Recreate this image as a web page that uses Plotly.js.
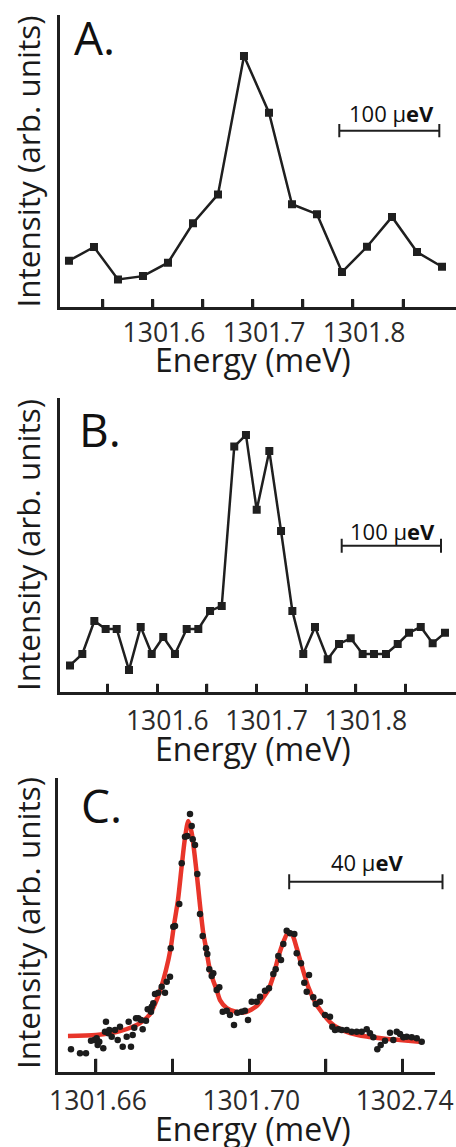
<!DOCTYPE html>
<html>
<head>
<meta charset="utf-8">
<script src="https://cdn.plot.ly/plotly-3.0.1.min.js"></script>
<style>
  html, body { margin: 0; padding: 0; background: #ffffff; }
  #chart { width: 456px; height: 1147px; }
</style>
</head>
<body>
<div id="chart"></div>
<script>
// ---------- Data ----------
// Panel A
const energyA = [1301.516, 1301.541, 1301.565, 1301.590, 1301.615, 1301.640, 1301.665, 1301.691,
                 1301.716, 1301.739, 1301.764, 1301.789, 1301.814, 1301.839, 1301.864, 1301.889];
const intensityA = [0.191, 0.245, 0.117, 0.130, 0.183, 0.339, 0.453, 1.000,
                    0.776, 0.414, 0.375, 0.146, 0.246, 0.364, 0.225, 0.167];

// Panel B
const energyB = [1301.5121, 1301.5245, 1301.5366, 1301.5480, 1301.5591, 1301.5715, 1301.5833, 1301.5944,
                 1301.6060, 1301.6178, 1301.6296, 1301.6413, 1301.6531, 1301.6649, 1301.6775, 1301.6893,
                 1301.7001, 1301.7128, 1301.7246, 1301.7360, 1301.7470, 1301.7588, 1301.7716, 1301.7830,
                 1301.7948, 1301.8068, 1301.8182, 1301.8303, 1301.8421, 1301.8535, 1301.8653, 1301.8773,
                 1301.8897];
const intensityB = [0.108, 0.152, 0.280, 0.249, 0.249, 0.090, 0.257, 0.152,
                    0.218, 0.152, 0.249, 0.249, 0.319, 0.338, 0.955, 1.000,
                    0.710, 0.938, 0.628, 0.319, 0.152, 0.257, 0.132, 0.191,
                    0.213, 0.152, 0.152, 0.152, 0.191, 0.234, 0.257, 0.194,
                    0.234];

// Panel C: measured points
const energyC = [1301.65348, 1301.65583, 1301.65739, 1301.65870, 1301.65956, 1301.66018, 1301.66044, 1301.66086,
                 1301.66190, 1301.66235, 1301.66261, 1301.66321, 1301.66347, 1301.66410, 1301.66496, 1301.66566,
                 1301.66626, 1301.66697, 1301.66801, 1301.66853, 1301.66913, 1301.66957, 1301.66999, 1301.67044,
                 1301.67104, 1301.67174, 1301.67218, 1301.67304, 1301.67349, 1301.67435, 1301.67453, 1301.67495,
                 1301.67539, 1301.67625, 1301.67714, 1301.67800, 1301.67845, 1301.67931, 1301.67949, 1301.68017,
                 1301.68061, 1301.68173, 1301.68236, 1301.68322, 1301.68382, 1301.68452, 1301.68497, 1301.68523,
                 1301.68583, 1301.68643, 1301.68713, 1301.68784, 1301.68870, 1301.68904, 1301.68956, 1301.69019,
                 1301.69060, 1301.69149, 1301.69217, 1301.69306, 1301.69410, 1301.69496, 1301.69600, 1301.69686,
                 1301.69801, 1301.69887, 1301.69966, 1301.70062, 1301.70193, 1301.70279, 1301.70409, 1301.70513,
                 1301.70626, 1301.70688, 1301.70756, 1301.70826, 1301.70887, 1301.70975, 1301.71061, 1301.71174,
                 1301.71236, 1301.71348, 1301.71434, 1301.71497, 1301.71557, 1301.71669, 1301.71732, 1301.71844,
                 1301.71974, 1301.72105, 1301.72165, 1301.72235, 1301.72321, 1301.72410, 1301.72541, 1301.72671,
                 1301.72801, 1301.72932, 1301.73062, 1301.73148, 1301.73235, 1301.73339, 1301.73428, 1301.73540,
                 1301.73670, 1301.73756, 1301.73845, 1301.73931, 1301.74017, 1301.74106, 1301.74236, 1301.74367,
                 1301.74497];
const intensityC = [0.096, 0.080, 0.080, 0.130, 0.133, 0.140, 0.113, 0.126,
                    0.100, 0.166, 0.206, 0.160, 0.173, 0.146, 0.173, 0.133,
                    0.186, 0.106, 0.146, 0.206, 0.106, 0.153, 0.182, 0.220,
                    0.220, 0.213, 0.176, 0.210, 0.256, 0.246, 0.266, 0.280,
                    0.317, 0.322, 0.346, 0.322, 0.366, 0.386, 0.500, 0.586,
                    0.589, 0.677, 0.840, 0.946, 0.949, 1.037, 0.989, 0.936,
                    0.913, 0.797, 0.637, 0.549, 0.500, 0.477, 0.416, 0.389,
                    0.400, 0.333, 0.344, 0.246, 0.250, 0.233, 0.193, 0.242,
                    0.246, 0.250, 0.213, 0.286, 0.286, 0.306, 0.330, 0.340,
                    0.397, 0.416, 0.469, 0.453, 0.517, 0.570, 0.560, 0.557,
                    0.480, 0.440, 0.362, 0.326, 0.393, 0.304, 0.277, 0.286,
                    0.233, 0.226, 0.186, 0.173, 0.176, 0.173, 0.173, 0.166,
                    0.166, 0.166, 0.176, 0.160, 0.144, 0.096, 0.113, 0.130,
                    0.162, 0.133, 0.166, 0.157, 0.144, 0.146, 0.144, 0.140,
                    0.126];

// Panel C: fitted curve
const fitEnergyC = [1301.65269, 1301.66000, 1301.66626, 1301.67148, 1301.67409, 1301.67539, 1301.67670, 1301.67826,
                    1301.67949, 1301.68035, 1301.68139, 1301.68236, 1301.68322, 1301.68408, 1301.68497, 1301.68609,
                    1301.68713, 1301.68799, 1301.68870, 1301.68956, 1301.69052, 1301.69149, 1301.69235, 1301.69410,
                    1301.69671, 1301.69913, 1301.70193, 1301.70357, 1301.70495, 1301.70626, 1301.70756, 1301.70887,
                    1301.71017, 1301.71114, 1301.71236, 1301.71348, 1301.71539, 1301.71714, 1301.71888, 1301.72105,
                    1301.72321, 1301.72627, 1301.73062, 1301.73496, 1301.73931, 1301.74505];
const fitIntensityC = [0.149, 0.153, 0.169, 0.201, 0.237, 0.277, 0.329, 0.413,
                       0.501, 0.593, 0.693, 0.829, 0.941, 1.009, 0.961, 0.825,
                       0.673, 0.561, 0.501, 0.425, 0.373, 0.333, 0.293, 0.261,
                       0.245, 0.245, 0.269, 0.301, 0.333, 0.389, 0.465, 0.525,
                       0.565, 0.557, 0.501, 0.441, 0.345, 0.285, 0.245, 0.205,
                       0.181, 0.161, 0.147, 0.139, 0.133, 0.125];

// Tick values / labels
const tickValsAB = [1301.55, 1301.60, 1301.65, 1301.70, 1301.75, 1301.80, 1301.85];
const tickTextAB = ['', '1301.6', '', '1301.7', '', '1301.8', ''];
const tickValsC = [1301.66, 1301.68, 1301.70, 1301.72, 1301.74];
const tickTextC = ['1301.66', '', '1301.70', '', '1302.74'];

// Texts
const panelLabels = ['A.', 'B.', 'C.'];
const xTitle = 'Energy (meV)';
const yTitle = 'Intensity (arb. units)';
const scaleLabels = ['100 μ<b>eV</b>', '100 μ<b>eV</b>', '40 μ<b>eV</b>'];

// ---------- Styling ----------
const FONT = 'Open Sans, Noto Sans, sans-serif';
const INK = '#1f1f1f';

const rangeA = [1301.5068, 1301.903];
const rangeB = [1301.5018, 1301.9008];
const rangeC = [1301.64996, 1301.74844];

function xAxis(domain, range, tickvals, ticktext, ticklen, shift, standoff) {
  return {
    domain: domain, range: range, showgrid: false, zeroline: false,
    showline: true, linecolor: INK, linewidth: 3,
    ticks: 'inside', ticklen: ticklen, tickwidth: 2.5, tickcolor: INK,
    tickvals: tickvals, ticktext: ticktext, tickangle: 0,
    ticklabelshift: shift, ticklabelstandoff: standoff,
    tickfont: {family: FONT, size: 26.5, color: '#2b2b2b'}
  };
}
function yAxis(domain, range) {
  return {
    domain: domain, range: range, showgrid: false, zeroline: false,
    showline: true, linecolor: INK, linewidth: 3,
    ticks: '', showticklabels: false
  };
}

const traces = [
  {x: energyA, y: intensityA, xaxis: 'x', yaxis: 'y', type: 'scatter', mode: 'lines+markers',
   line: {color: INK, width: 2.5}, marker: {symbol: 'square', size: 8, color: INK}},
  {x: energyB, y: intensityB, xaxis: 'x2', yaxis: 'y2', type: 'scatter', mode: 'lines+markers',
   line: {color: INK, width: 2.5}, marker: {symbol: 'square', size: 8, color: INK}},
  {x: fitEnergyC, y: fitIntensityC, xaxis: 'x3', yaxis: 'y3', type: 'scatter', mode: 'lines',
   line: {color: '#e8352a', width: 4.5, shape: 'spline', smoothing: 0.7}},
  {x: energyC, y: intensityC, xaxis: 'x3', yaxis: 'y3', type: 'scatter', mode: 'markers',
   marker: {symbol: 'circle', size: 6.5, color: '#1c1c1c'}}
];

function scaleBar(xr, yr, x0, x1, y, cap) {
  const s = {type: 'line', xref: xr, yref: yr, line: {color: INK, width: 2}};
  return [
    Object.assign({}, s, {x0: x0, x1: x1, y0: y, y1: y}),
    Object.assign({}, s, {x0: x0, x1: x0, y0: y - cap, y1: y + cap}),
    Object.assign({}, s, {x0: x1, x1: x1, y0: y - cap, y1: y + cap})
  ];
}
// inward tick marks at the tick values, measured as a fraction of the subplot height
function tickMarks(xr, yr, vals, lenFrac) {
  return vals.map(v => ({type: 'line', xref: xr, yref: yr + ' domain', x0: v, x1: v, y0: 0, y1: lenFrac,
                         line: {color: INK, width: 2.5}}));
}
const fracC = e => (e - rangeC[0]) / (rangeC[1] - rangeC[0]);
const barC0 = 1301.7104, barCWidth = 0.040;

function txt(text, xr, yr, x, y, size, extra) {
  return Object.assign({text: text, xref: xr, yref: yr, x: x, y: y, xanchor: 'center', yanchor: 'middle',
    showarrow: false, font: {family: FONT, size: size, color: '#111'}}, extra || {});
}
function yTitleAnn(yPaper) {
  return txt(yTitle, 'paper', 'paper', 27/456, yPaper, 31.5,
             {textangle: -90, font: {family: FONT, size: 31.5, color: '#1a1a1a'}});
}
function xTitleAnn(yPaper) {
  return txt(xTitle, 'paper', 'paper', 253/456, yPaper, 32,
             {font: {family: FONT, size: 32, color: '#1a1a1a'}});
}

const layout = {
  width: 456, height: 1147,
  margin: {l: 0, r: 0, t: 0, b: 0},
  paper_bgcolor: '#ffffff', plot_bgcolor: '#ffffff',
  showlegend: false,
  font: {family: FONT, color: '#1a1a1a'},
  xaxis:  xAxis([0.1311, 1], rangeA, tickValsAB, tickTextAB, 8, 11, 0),
  yaxis:  yAxis([0.73191, 0.98692], [0.006, 1.162]),
  xaxis2: Object.assign(xAxis([0.1311, 1], rangeB, tickValsAB, tickTextAB, 8, 10, 3), {anchor: 'y2'}),
  yaxis2: Object.assign(yAxis([0.39686, 0.65301], [0.0058, 1.143]), {anchor: 'x2'}),
  xaxis3: Object.assign(xAxis([0.12610, 0.95395], rangeC, tickValsC, tickTextC, 13, 2, 3), {anchor: 'y3'}),
  yaxis3: Object.assign(yAxis([0.06556, 0.32171], [0.006, 1.181]), {anchor: 'x3'}),
  shapes: [].concat(
    tickMarks('x', 'y', tickValsAB, 8 / 292.5),
    tickMarks('x2', 'y2', tickValsAB, 8 / 293.8),
    tickMarks('x3', 'y3', tickValsC, 13 / 293.8),
    scaleBar('x', 'y', 1301.7863, 1301.8863, 0.705, 0.026),
    scaleBar('x2', 'y2', 1301.7857, 1301.8857, 0.571, 0.027),
    scaleBar('x3 domain', 'y3', fracC(barC0), fracC(barC0 + barCWidth), 0.766, 0.030)
  ),
  annotations: [
    txt(panelLabels[0], 'paper', 'paper', 72/456, 1 - 37.5/1147, 46, {xanchor: 'left'}),
    txt(panelLabels[1], 'paper', 'paper', 77/456, 1 - 429/1147, 46, {xanchor: 'left'}),
    txt(panelLabels[2], 'paper', 'paper', 79/456, 1 - 805/1147, 46, {xanchor: 'left'}),
    txt(scaleLabels[0], 'x', 'y', 1301.8385, 0.773, 22),
    txt(scaleLabels[1], 'x2', 'y2', 1301.8369, 0.628, 22),
    txt(scaleLabels[2], 'x3', 'y3', 1301.73062, 0.846, 22),
    yTitleAnn(1 - 161.5/1147),
    yTitleAnn(1 - 545/1147),
    yTitleAnn(1 - 923/1147),
    xTitleAnn(1 - 359.5/1147),
    xTitleAnn(1 - 748/1147),
    xTitleAnn(1 - 1128/1147)
  ]
};

Plotly.newPlot('chart', traces, layout, {displayModeBar: false});
</script>
</body>
</html>
